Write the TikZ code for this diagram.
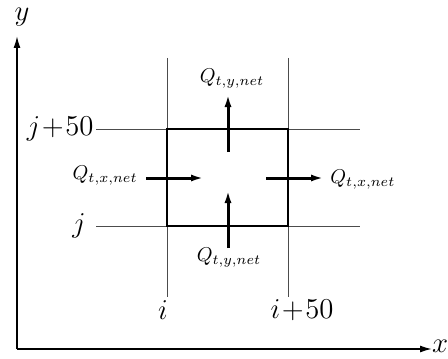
\documentclass[tikz,border=0pt]{standalone}
\usepackage{tikz}
\usetikzlibrary{arrows.meta,positioning}

\begin{document}
\begin{tikzpicture}[x=0.5pt,y=-0.5pt,
    gridline/.style={gray!60!black,line width=0.45pt},
    cellbox/.style={black,line width=1pt},
    flux/.style={line width=1.5pt,-{Latex[length=6.5pt,width=3.5pt]}},
    axis/.style={line width=0.8pt,-{Latex[length=6pt,width=3.5pt]}},
    biglbl/.style={font=\fontsize{14.4}{16}\selectfont,inner sep=0pt},
    qlbl/.style={font=\fontsize{10}{12}\selectfont,inner sep=0pt}]
\useasboundingbox (0,0) rectangle (448,358);
% axes
\coordinate (o) at (17,349);
\coordinate (xend) at (432,349);
\coordinate (yend) at (17,36);
\draw[axis] (o) -- (xend);
\draw[axis] (o) -- (yend);
\node[biglbl] (xlbl) at (440,346) {$x$};
\node[biglbl] (ylbl) at (22,17) {$y$};
% grid lines
\coordinate (vi-top) at (167,58);   \coordinate (vi-bot) at (167,297);
\coordinate (vii-top) at (288,58);  \coordinate (vii-bot) at (288,297);
\coordinate (hj-l) at (96,226);     \coordinate (hj-r) at (360,226);
\coordinate (hjj-l) at (96,129);    \coordinate (hjj-r) at (360,129);
\draw[gridline] (vi-top) -- (vi-bot);
\draw[gridline] (vii-top) -- (vii-bot);
\draw[gridline] (hj-l) -- (hj-r);
\draw[gridline] (hjj-l) -- (hjj-r);
% cell
\draw[cellbox] (167,129) rectangle (288,226);
\node[biglbl,anchor=east] (jj) at ([xshift=-1pt]hjj-l) {$j\!+\!50$};
\node[biglbl,anchor=east] (j) at ([xshift=-5pt]hj-l) {$j$};
\node[biglbl] (i) at (163,310) {$i$};
\node[biglbl] (ii) at (302,310) {$i\!+\!50$};
% fluxes
\coordinate (top-s) at (228,152);  \coordinate (top-e) at (228,94);
\coordinate (bot-s) at (228,248);  \coordinate (bot-e) at (228,190);
\coordinate (lft-s) at (146,178);  \coordinate (lft-e) at (204,178);
\coordinate (rgt-s) at (266,178);  \coordinate (rgt-e) at (324,178);
\draw[flux] (top-s) -- (top-e);
\draw[flux] (bot-s) -- (bot-e);
\draw[flux] (lft-s) -- (lft-e);
\draw[flux] (rgt-s) -- (rgt-e);
\node[qlbl] (qtop) at (232,79) {$Q_{t,y,net}$};
\node[qlbl] (qbot) at (229,258) {$Q_{t,y,net}$};
\node[qlbl,anchor=east] (qlft) at ([xshift=-4pt,yshift=1pt]lft-s) {$Q_{t,x,net}$};
\node[qlbl,anchor=west] (qrgt) at ([xshift=3pt,yshift=-1pt]rgt-e) {$Q_{t,x,net}$};
\end{tikzpicture}
\end{document}
